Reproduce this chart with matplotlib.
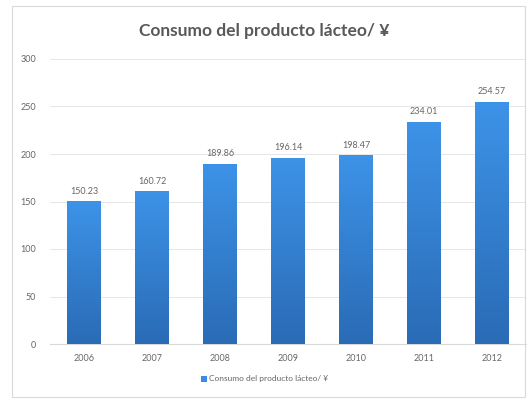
import numpy as np
import matplotlib
matplotlib.use("Agg")
import matplotlib.pyplot as plt
from matplotlib.patches import Rectangle
from matplotlib.colors import LinearSegmentedColormap

years = ["2006", "2007", "2008", "2009", "2010", "2011", "2012"]
values = [150.23, 160.72, 189.86, 196.14, 198.47, 234.01, 254.57]
title = "Consumo del producto lácteo/ ¥"
legend_label = "Consumo del producto lácteo/ ¥"

plt.rcParams["font.family"] = ["Lato", "Noto Sans CJK SC", "DejaVu Sans"]

fig = plt.figure(figsize=(5.29, 4.03), dpi=100)
fig.patch.set_facecolor("white")

# chart frame
fig.patches.append(Rectangle((12 / 529, 6 / 403), 513 / 529, 391 / 403,
                             transform=fig.transFigure, fill=False,
                             edgecolor="#d9d9d9", linewidth=0.8))

ax = fig.add_axes([50 / 529, 59 / 403, 476 / 529, 285 / 403])
x = np.arange(len(years))
bars = ax.bar(x, values, width=0.5, color="#3a8de0", zorder=2)

# vertical gradient fill inside each bar
cmap = LinearSegmentedColormap.from_list("bar", ["#2a6bb5", "#3d93e8"])
grad = np.linspace(0, 1, 256).reshape(-1, 1)
for b in bars:
    bx, by = b.get_x(), b.get_y()
    w, h = b.get_width(), b.get_height()
    im = ax.imshow(grad, cmap=cmap, origin="lower", aspect="auto",
                   extent=(bx, bx + w, by, by + h), zorder=3)
    im.set_clip_path(b)
    ax.text(bx + w / 2, by + h + 6, f"{h:.2f}", ha="center", va="bottom",
            fontsize=6.5, color="#666666", zorder=4)

ax.set_xlim(-0.5, len(years) - 0.5)
ax.set_ylim(0, 300)
ax.set_yticks(np.arange(0, 301, 50))
ax.set_xticks(x)
ax.set_xticklabels(years)
ax.tick_params(axis="both", length=0, labelsize=6.5, labelcolor="#666666")
ax.tick_params(axis="y", pad=10)
ax.tick_params(axis="x", pad=7)
ax.grid(axis="y", color="#e6e6e6", linewidth=0.7, zorder=0)
for s in ["top", "right", "left"]:
    ax.spines[s].set_visible(False)
ax.spines["bottom"].set_color("#d9d9d9")
ax.spines["bottom"].set_linewidth(0.8)

fig.text(0.5, 1 - 31 / 403, title, ha="center", va="center",
         fontsize=12.5, fontweight="bold", color="#595959")

ax.legend([bars[0]], [legend_label], loc="center", frameon=False,
          bbox_to_anchor=(0.5, 1 - 379 / 403), bbox_transform=fig.transFigure,
          fontsize=6, labelcolor="#666666", handlelength=0.7, handleheight=0.7,
          handletextpad=0.3)

fig.savefig("out.png", dpi=100)
